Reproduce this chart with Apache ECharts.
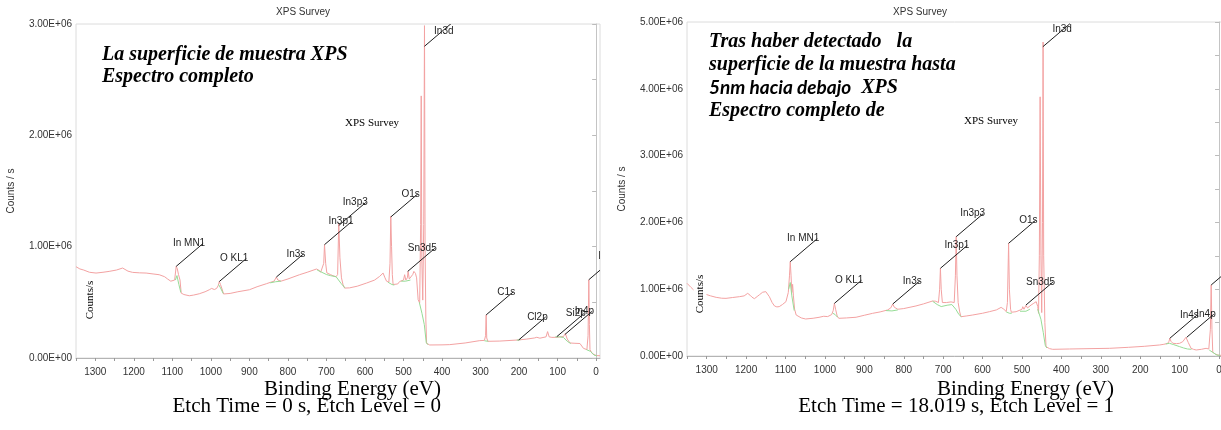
<!DOCTYPE html>
<html>
<head>
<meta charset="utf-8">
<title>XPS Survey</title>
<script src="https://cdn.jsdelivr.net/npm/echarts@6/dist/echarts.min.js"></script>
<style>
  html, body { margin: 0; padding: 0; background: #fff; }
  #chart { width: 1221px; height: 430px; }
</style>
</head>
<body>
<div id="chart"></div>
<script>
// binding energy axis (eV), both panels
var xTicks = [0, 50, 100, 150, 200, 250, 300, 350, 400, 450, 500, 550, 600, 650, 700,
  750, 800, 850, 900, 950, 1000, 1050, 1100, 1150, 1200, 1250, 1300, 1350]
var xLabels = [0, 100, 200, 300, 400, 500, 600, 700, 800, 900, 1000, 1100, 1200, 1300]

// counts axis, in millions of counts/s (tick every 0.5, label every 1)
var yTickStep = 0.5
var yMaxLeft = 3
var yMaxRight = 5

// etch level 0 : [eV, Mcounts/s]
var spectrumLeft = [
  [1350, 0.82], [1340, 0.80], [1330, 0.79], [1315, 0.77], [1298, 0.763], [1280, 0.77],
  [1264, 0.778], [1245, 0.79], [1229, 0.808], [1215, 0.78], [1203, 0.769], [1185, 0.765],
  [1168, 0.763], [1150, 0.755], [1134, 0.748], [1120, 0.73], [1112, 0.709], [1104, 0.69],
  [1099, 0.678], [1094, 0.70], [1090, 0.823], [1087, 0.80], [1084, 0.75], [1082, 0.76],
  [1080, 0.70], [1077, 0.583], [1070, 0.57], [1056, 0.559], [1045, 0.565], [1030, 0.577],
  [1015, 0.595], [1004, 0.613], [998, 0.625], [995, 0.64], [991, 0.615], [985, 0.625],
  [981, 0.65], [978, 0.687], [975, 0.66], [971, 0.62], [967, 0.575], [965, 0.568],
  [950, 0.58], [930, 0.595], [900, 0.613], [880, 0.64], [856, 0.667], [845, 0.68],
  [836, 0.69], [830, 0.727], [826, 0.70], [818, 0.69], [800, 0.71], [770, 0.748],
  [750, 0.77], [726, 0.799], [720, 0.79], [715, 0.77], [711, 0.765], [707, 0.85],
  [705, 1.018], [702, 0.85], [699, 0.765], [690, 0.75], [683, 0.739], [675, 0.73],
  [671, 0.75], [668, 1.21], [665, 0.9], [661, 0.72], [657, 0.66], [653, 0.628],
  [640, 0.63], [620, 0.645], [596, 0.673], [575, 0.70], [562, 0.733], [553, 0.763],
  [548, 0.72], [544, 0.69], [538, 0.68], [535, 0.85], [533, 1.273], [531, 1.0],
  [529, 0.75], [527, 0.66], [522, 0.655], [515, 0.665], [510, 0.687], [500, 0.70],
  [497, 0.748], [494, 0.70], [490, 0.72], [488, 0.778], [485, 0.71], [481, 0.70],
  [476, 0.75], [473, 0.778], [469, 0.76], [466, 0.72], [462, 0.523], [458, 0.495],
  [455.5, 1.2], [454, 2.354], [452.5, 0.9], [450, 0.52], [447.5, 1.2], [445.5, 2.985],
  [444, 1.0], [442, 0.342], [440, 0.132], [432, 0.117], [400, 0.118], [380, 0.12],
  [340, 0.135], [302, 0.156], [290, 0.158], [287, 0.2], [285.5, 0.387], [284, 0.18],
  [281, 0.15], [276, 0.147], [250, 0.152], [202, 0.162], [180, 0.17], [160, 0.18],
  [154, 0.186], [146, 0.178], [130, 0.19], [126, 0.237], [122, 0.19], [115, 0.185],
  [102, 0.186], [92, 0.19], [85, 0.192], [80, 0.22], [75, 0.17], [68, 0.135],
  [55, 0.132], [42, 0.13], [33, 0.087], [24, 0.075], [21, 0.2], [19, 0.703],
  [17.5, 0.3], [16, 0.075], [10, 0.04], [7, 0.027], [0, 0.022], [-10, 0.02]
]
// fitted backgrounds under the peaks (green)
var backgroundLeft = [
  [[1092, 0.70], [1088, 0.74], [1083, 0.66], [1078, 0.59]],
  [[980, 0.66], [975, 0.63], [968, 0.58]],
  [[846, 0.675], [832, 0.685], [818, 0.69]],
  [[724, 0.79], [712, 0.77], [700, 0.75], [690, 0.74], [675, 0.73], [662, 0.67], [652, 0.63]],
  [[540, 0.68], [530, 0.66], [524, 0.655]],
  [[506, 0.69], [495, 0.69], [482, 0.70]],
  [[459, 0.50], [452, 0.40], [446, 0.30], [441, 0.14], [437, 0.12]],
  [[290, 0.155], [280, 0.15]],
  [[206, 0.16], [196, 0.165]],
  [[106, 0.19], [95, 0.19], [85, 0.185], [75, 0.15], [66, 0.13]],
  [[25, 0.075], [15, 0.06], [5, 0.025], [-2, 0.02]]
]
// [label, eV, Mcounts/s where the leader line starts]
var peaksLeft = [
  ['In3d', 445.5, 2.80], ['In3p3', 668, 1.19], ['In3p1', 705, 1.018], ['O1s', 533, 1.267],
  ['In MN1', 1090, 0.823], ['O KL1', 978, 0.687], ['In3s', 830, 0.727], ['Sn3d5', 489, 0.778],
  ['C1s', 285.5, 0.387], ['Cl2p', 201, 0.162], ['Si2p', 102, 0.192], ['In4p', 80.5, 0.213],
  ['In4d', 19, 0.703]
]

// etch level 1 (18.019 s)
var spectrumRight = [
  [1350, 1.088], [1345, 1.06], [1340, 1.028], [1330, 0.97], [1323, 0.923], [1310, 0.92],
  [1302, 0.923], [1290, 0.90], [1276, 0.878], [1262, 0.865], [1251, 0.863], [1235, 0.875],
  [1217, 0.888], [1205, 0.90], [1196, 0.938], [1190, 0.91], [1185, 0.88], [1179, 0.858],
  [1172, 0.89], [1166, 0.918], [1158, 0.955], [1150, 0.963], [1145, 0.94], [1141, 0.888],
  [1134, 0.80], [1128, 0.749], [1122, 0.735], [1116, 0.739], [1108, 0.77], [1099, 0.813],
  [1093, 0.95], [1090, 1.2], [1088, 1.412], [1086, 1.2], [1084, 0.95], [1082, 1.073],
  [1080, 0.90], [1077, 0.70], [1073, 0.614], [1060, 0.57], [1049, 0.554], [1030, 0.565],
  [1015, 0.579], [1003, 0.595], [998, 0.614], [993, 0.59], [989, 0.60], [983, 0.62],
  [979, 0.68], [976, 0.788], [973, 0.70], [969, 0.60], [965, 0.564], [945, 0.57],
  [921, 0.58], [900, 0.61], [879, 0.639], [860, 0.66], [841, 0.689], [833, 0.72],
  [828, 0.778], [824, 0.73], [815, 0.70], [800, 0.71], [769, 0.749], [750, 0.78],
  [727, 0.823], [719, 0.82], [712, 0.80], [709, 1.0], [707, 1.313], [705, 1.0],
  [702, 0.80], [692, 0.80], [680, 0.81], [672, 0.80], [669, 1.2], [667, 1.786],
  [665, 1.2], [662, 0.80], [658, 0.66], [655, 0.588], [640, 0.60], [625, 0.614],
  [600, 0.64], [583, 0.663], [565, 0.69], [553, 0.728], [546, 0.70], [540, 0.665],
  [537, 0.80], [534, 1.687], [532, 1.0], [529, 0.70], [527, 0.655], [515, 0.663],
  [500, 0.70], [498, 0.738], [495, 0.70], [490, 0.758], [486, 0.72], [477, 0.763],
  [470, 0.79], [464, 0.813], [460, 0.74], [458, 0.639], [456, 1.5], [454, 3.88],
  [452, 1.5], [450, 0.65], [448, 2.0], [446.5, 4.70], [445, 1.5], [442, 0.5],
  [439, 0.139], [430, 0.11], [422, 0.10], [380, 0.105], [330, 0.11], [278, 0.115],
  [230, 0.13], [190, 0.145], [151, 0.165], [140, 0.175], [130, 0.19], [127, 0.22],
  [125, 0.265], [122, 0.22], [117, 0.19], [108, 0.185], [100, 0.19], [92, 0.215],
  [88, 0.24], [84, 0.28], [82, 0.29], [78, 0.20], [71, 0.115], [65, 0.10],
  [58, 0.09], [45, 0.10], [33, 0.115], [26, 0.105], [22, 0.4], [20, 1.063],
  [18, 0.4], [16, 0.06], [10, 0.03], [7, 0.015], [0, 0.01], [-10, 0.01]
]
var backgroundRight = [
  [[1092, 1.0], [1088, 1.1], [1084, 0.9], [1078, 0.68]],
  [[980, 0.64], [974, 0.62], [968, 0.58]],
  [[845, 0.68], [830, 0.675], [815, 0.69]],
  [[727, 0.82], [715, 0.77], [705, 0.74], [690, 0.76], [678, 0.77], [668, 0.70], [660, 0.62], [654, 0.59]],
  [[540, 0.66], [532, 0.64], [526, 0.64]],
  [[505, 0.67], [490, 0.67], [480, 0.70]],
  [[460, 0.70], [452, 0.55], [446, 0.35], [441, 0.16], [437, 0.12]],
  [[135, 0.18], [126, 0.19], [115, 0.17], [100, 0.14], [90, 0.12], [80, 0.105], [70, 0.10]],
  [[25, 0.09], [15, 0.05], [5, 0.012], [-3, 0.01]]
]
var peaksRight = [
  ['In3d', 447, 4.63], ['In3p3', 667, 1.786], ['In3p1', 707, 1.313], ['O1s', 534, 1.687],
  ['In MN1', 1088, 1.412], ['O KL1', 976, 0.788], ['In3s', 828, 0.778], ['Sn3d5', 490, 0.763],
  ['In4s', 125, 0.265], ['In4p', 82, 0.28], ['In4d', 20, 1.063]
]

var SANS = '"Liberation Sans", Arial, sans-serif'
var SERIF = '"Liberation Serif", "Times New Roman", serif'

// 3 -> "3.00E+06"; half steps get no label
function sciLabel(v) {
  if (Math.abs(v - Math.round(v)) > 1e-9) return ''
  var s = (v * 1e6).toExponential(2).toUpperCase()
  return s.replace(/E([+-])(\d)$/, 'E$10$2')
}

function xAxisCfg(i) {
  return {
    type: 'value', gridIndex: i, min: -10, max: 1350, inverse: true,
    axisLine: { show: true, onZero: false, lineStyle: { color: '#b4b4b4' } },
    axisTick: { show: true, customValues: xTicks, length: 3, lineStyle: { color: '#999' } },
    axisLabel: { customValues: xLabels, formatter: function (v) { return String(v) },
      margin: 9, fontSize: 10, fontFamily: SANS, color: '#333' },
    splitLine: { show: false }
  }
}

function yAxisCfg(i, max) {
  return {
    type: 'value', gridIndex: i, min: 0, max: max, interval: yTickStep,
    name: 'Counts / s', nameLocation: 'middle', nameGap: 60,
    nameTextStyle: { fontSize: 10, fontFamily: SANS, color: '#333' },
    axisLine: { show: true, lineStyle: { color: '#c4c4c4' } },
    axisTick: { show: true, inside: false, length: 4, lineStyle: { color: '#bbb' } },
    axisLabel: { formatter: sciLabel, margin: 4, fontSize: 10, fontFamily: SANS, color: '#333' },
    splitLine: { show: false }
  }
}

function withBreaks(segments) {
  var out = []
  segments.forEach(function (seg, k) {
    if (k > 0) out.push(['-', '-'])
    seg.forEach(function (p) { out.push(p) })
  })
  return out
}

function spectrumSeries(i, data) {
  return {
    type: 'line', xAxisIndex: i, yAxisIndex: i, data: data, symbol: 'none',
    lineStyle: { color: '#f3a2a2', width: 1 }, z: 2, silent: true
  }
}

function backgroundSeries(i, segments) {
  return {
    type: 'line', xAxisIndex: i, yAxisIndex: i, data: withBreaks(segments), symbol: 'none',
    connectNulls: false, lineStyle: { color: '#96dc96', width: 1 }, z: 3, silent: true
  }
}

function peakSeries(i, peaks) {
  return {
    type: 'custom', xAxisIndex: i, yAxisIndex: i, clip: true, z: 4, silent: true,
    data: peaks.map(function (p) { return [p[1], p[2]] }),
    renderItem: function (params, api) {
      var p = api.coord([api.value(0), api.value(1)])
      var ex = p[0] + 27, ey = p[1] - 23
      var ty = Math.max(ey, params.coordSys.y + 7)
      return {
        type: 'group',
        children: [
          { type: 'line', shape: { x1: p[0], y1: p[1], x2: ex, y2: ey }, style: { stroke: '#1e1e1e', lineWidth: 1 } },
          { type: 'text', x: ex + 2, y: ty, style: {
            text: peaks[params.dataIndex][0], fill: '#1e1e1e', font: '10px ' + SANS,
            align: 'right', verticalAlign: 'middle' } }
        ]
      }
    }
  }
}

function txt(x, y, text, font, extra) {
  var el = { type: 'text', x: x, y: y, z: 100, style: { text: text, font: font, fill: '#000', align: 'left', verticalAlign: 'middle' } }
  for (var k in (extra || {})) {
    if (k === 'style') Object.assign(el.style, extra.style)
    else el[k] = extra[k]
  }
  return el
}

var ANNOT = 'italic bold 20px ' + SERIF

var chart = echarts.init(document.getElementById('chart'))
chart.setOption({
  animation: false,
  backgroundColor: '#fff',
  grid: [
    { left: 76, top: 24, width: 524, height: 334, show: true, borderColor: '#dcdcdc', borderWidth: 1, outerBoundsMode: 'none' },
    { left: 687, top: 22, width: 536, height: 334, show: true, borderColor: '#dcdcdc', borderWidth: 1, outerBoundsMode: 'none' }
  ],
  xAxis: [xAxisCfg(0), xAxisCfg(1)],
  yAxis: [yAxisCfg(0, yMaxLeft), yAxisCfg(1, yMaxRight)],
  series: [
    spectrumSeries(0, spectrumLeft),
    backgroundSeries(0, backgroundLeft),
    peakSeries(0, peaksLeft),
    spectrumSeries(1, spectrumRight),
    backgroundSeries(1, backgroundRight),
    peakSeries(1, peaksRight)
  ],
  graphic: [
    // panel titles
    txt(303, 12, 'XPS Survey', '10px ' + SANS, { style: { align: 'center', fill: '#333' } }),
    txt(920, 12, 'XPS Survey', '10px ' + SANS, { style: { align: 'center', fill: '#333' } }),
    // inner labels
    txt(372, 123, 'XPS Survey', '11px ' + SERIF, { style: { align: 'center' } }),
    txt(991, 121, 'XPS Survey', '11px ' + SERIF, { style: { align: 'center' } }),
    txt(90, 300, 'Counts/s', '11px ' + SERIF, { rotation: Math.PI / 2, style: { align: 'center', backgroundColor: '#fff', padding: [1, 2] } }),
    txt(700, 294, 'Counts/s', '11px ' + SERIF, { rotation: Math.PI / 2, style: { align: 'center', backgroundColor: '#fff', padding: [1, 2] } }),
    // annotations
    txt(102, 55, 'La superficie de muestra XPS', ANNOT),
    txt(102, 77, 'Espectro completo', ANNOT),
    txt(709, 42, 'Tras haber detectado   la', ANNOT),
    txt(709, 65, 'superficie de la muestra hasta', ANNOT),
    txt(709, 88, '{a|5nm hacia debajo}{b|  XPS}', ANNOT, { style: { rich: {
      a: { font: 'italic bold 19px Lato, "Open Sans", sans-serif', fill: '#000' },
      b: { font: ANNOT, fill: '#000' }
    } } }),
    txt(709, 111, 'Espectro completo de', ANNOT),
    // axis captions
    txt(441, 389, 'Binding Energy (eV)', '21px ' + SERIF, { style: { align: 'right' } }),
    txt(441, 406, 'Etch Time = 0 s, Etch Level = 0', '21px ' + SERIF, { style: { align: 'right' } }),
    txt(1114, 389, 'Binding Energy (eV)', '21px ' + SERIF, { style: { align: 'right' } }),
    txt(1114, 406, 'Etch Time = 18.019 s, Etch Level = 1', '21px ' + SERIF, { style: { align: 'right' } })
  ]
})
</script>
</body>
</html>
